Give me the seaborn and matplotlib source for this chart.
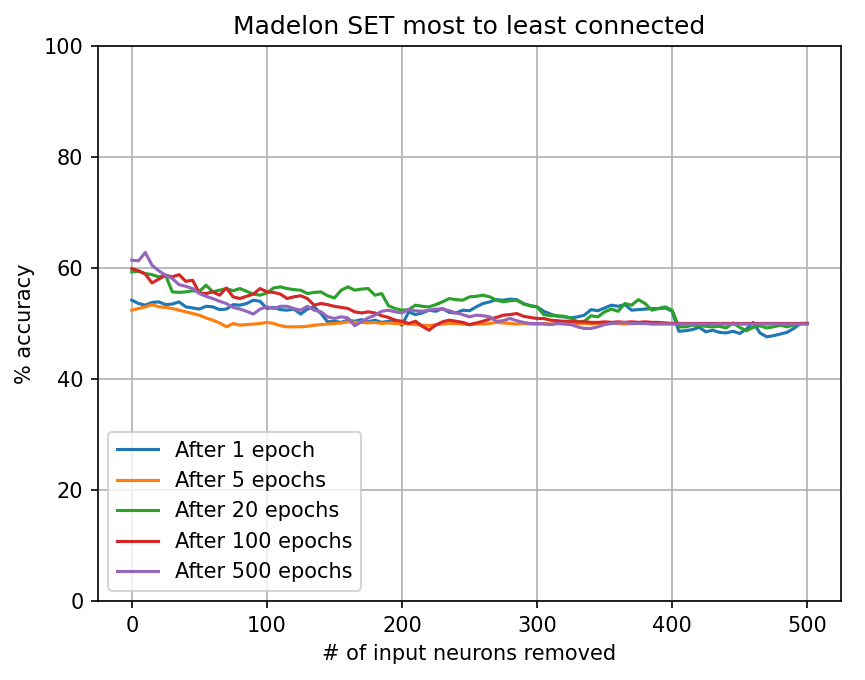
import numpy as np
import pandas as pd
import matplotlib
matplotlib.use('Agg')
import matplotlib.pyplot as plt
import seaborn as sns

# x axis: number of input neurons removed (read every 5 neurons)
removed = list(range(0, 501, 5))

labels = ['After 1 epoch', 'After 5 epochs', 'After 20 epochs',
          'After 100 epochs', 'After 500 epochs']

acc_1 = [54.2, 53.6, 53.3, 53.8, 53.9, 53.4, 53.5, 53.9, 53.0, 52.8,
         52.6, 53.1, 53.0, 52.5, 52.6, 53.4, 53.3, 53.6, 54.2, 54.0,
         52.7, 52.9, 52.5, 52.4, 52.6, 51.7, 52.6, 53.0, 51.8, 50.3,
         50.4, 50.2, 50.6, 50.4, 50.7, 50.3, 50.6, 50.2, 50.4, 50.6,
         49.7, 52.1, 51.6, 51.9, 52.4, 52.2, 52.7, 52.0, 51.9, 52.4,
         52.3, 53.0, 53.6, 53.9, 54.3, 54.2, 54.4, 54.3, 53.6, 53.2,
         53.0, 52.2, 51.7, 51.3, 51.2, 51.0, 51.2, 51.5, 52.5, 52.3,
         52.8, 53.3, 53.1, 53.4, 52.4, 52.5, 52.6, 52.7, 52.7, 52.8,
         52.2, 48.6, 48.7, 48.9, 49.3, 48.5, 48.8, 48.4, 48.3, 48.6,
         48.2, 49.0, 50.2, 48.3, 47.6, 47.8, 48.1, 48.4, 49.1, 50.0,
         50.0]

acc_5 = [52.4, 52.7, 53.0, 53.4, 53.0, 52.9, 52.7, 52.4, 52.1, 51.8,
         51.5, 51.0, 50.6, 50.1, 49.4, 50.0, 49.7, 49.8, 49.9, 50.0,
         50.2, 50.0, 49.6, 49.4, 49.4, 49.4, 49.5, 49.7, 49.8, 49.9,
         50.0, 50.1, 50.3, 50.2, 50.2, 50.1, 50.2, 50.0, 50.1, 50.0,
         50.0, 49.9, 49.8, 49.7, 49.6, 49.8, 49.9, 50.0, 50.0, 49.9,
         49.8, 49.9, 49.9, 50.0, 50.2, 50.1, 50.0, 49.9, 50.0, 49.9,
         49.9, 50.0, 49.9, 50.0, 50.0, 49.9, 50.0, 50.0, 49.9, 50.0,
         50.0, 50.0, 50.0, 49.9, 50.0, 50.0, 50.0, 50.0, 50.0, 50.0,
         50.0, 50.0, 50.0, 50.0, 50.0, 50.0, 50.0, 50.0, 50.0, 50.0,
         50.0, 50.0, 50.0, 50.0, 50.0, 50.0, 50.0, 50.0, 50.0, 50.0,
         50.0]

acc_20 = [59.3, 59.4, 59.0, 58.8, 58.4, 58.7, 55.7, 55.6, 55.7, 55.9,
          55.8, 56.9, 55.7, 56.0, 56.3, 55.9, 56.3, 55.8, 55.3, 55.1,
          55.5, 56.4, 56.6, 56.3, 56.1, 56.0, 55.4, 55.6, 55.7, 55.0,
          54.6, 56.0, 56.6, 56.0, 56.2, 56.3, 55.1, 55.4, 53.2, 52.7,
          52.4, 52.5, 53.3, 53.1, 53.0, 53.4, 53.9, 54.5, 54.3, 54.2,
          54.8, 54.9, 55.1, 54.8, 54.2, 53.9, 54.1, 54.2, 53.5, 53.2,
          53.0, 51.6, 51.4, 51.4, 51.3, 51.0, 50.3, 50.4, 51.4, 51.2,
          52.1, 52.6, 52.2, 53.6, 53.3, 54.3, 53.6, 52.4, 52.7, 53.0,
          52.4, 49.4, 49.4, 49.7, 49.6, 49.5, 49.4, 49.5, 49.2, 50.1,
          49.3, 48.7, 49.3, 49.6, 49.2, 49.4, 49.7, 49.4, 49.7, 50.0,
          50.0]

acc_100 = [59.9, 59.5, 58.9, 57.3, 58.0, 58.7, 58.4, 58.8, 57.6, 57.8,
           55.5, 55.4, 55.7, 55.1, 56.4, 54.8, 54.5, 54.9, 55.3, 56.3,
           55.7, 55.6, 55.3, 54.5, 54.8, 55.0, 54.5, 53.3, 53.6, 53.4,
           53.1, 52.9, 52.7, 52.1, 51.9, 52.1, 51.9, 51.4, 51.1, 50.6,
           50.4, 50.0, 50.4, 49.5, 48.8, 49.7, 50.3, 50.6, 50.4, 50.2,
           49.8, 50.1, 50.4, 50.8, 51.1, 51.5, 51.6, 51.8, 51.3, 51.1,
           50.9, 50.9, 50.6, 50.5, 50.4, 50.4, 50.3, 50.3, 50.2, 50.2,
           50.3, 50.2, 50.3, 50.2, 50.3, 50.2, 50.3, 50.2, 50.2, 50.1,
           50.0, 50.0, 50.0, 50.0, 50.0, 50.0, 50.0, 50.0, 50.0, 50.0,
           50.0, 50.0, 50.0, 50.0, 50.0, 50.0, 50.0, 50.0, 50.0, 50.0,
           50.0]

acc_500 = [61.4, 61.3, 62.8, 60.5, 59.5, 58.7, 58.1, 57.0, 56.7, 56.3,
           55.4, 54.9, 54.5, 54.0, 53.6, 52.9, 52.6, 52.2, 51.7, 52.6,
           53.0, 52.7, 53.1, 53.1, 52.7, 52.4, 53.1, 52.4, 52.1, 51.2,
           50.9, 51.2, 51.0, 49.6, 50.3, 51.0, 51.5, 52.2, 52.4, 52.1,
           51.9, 52.5, 52.3, 52.2, 52.4, 52.6, 52.6, 52.3, 51.9, 51.6,
           51.2, 51.5, 51.4, 51.2, 50.4, 50.5, 50.9, 50.5, 50.2, 50.0,
           50.0, 49.9, 49.8, 50.0, 49.9, 49.8, 49.4, 49.1, 49.1, 49.4,
           49.8, 50.0, 50.1, 50.2, 50.0, 50.0, 50.0, 49.9, 49.9, 49.9,
           49.9, 49.9, 49.9, 49.9, 49.9, 49.9, 49.9, 49.9, 49.9, 49.9,
           49.9, 49.9, 49.9, 49.9, 49.9, 49.9, 49.9, 49.9, 49.9, 49.9,
           49.9]

series = [acc_1, acc_5, acc_20, acc_100, acc_500]

frames = []
for lab, vals in zip(labels, series):
    frames.append(pd.DataFrame({'removed': removed, 'accuracy': vals, 'run': lab}))
df = pd.concat(frames, ignore_index=True)

fig = plt.figure(figsize=(865 / 150, 680 / 150), dpi=150)
ax = fig.add_axes([98 / 865, 1 - 601 / 680, 743 / 865, 555 / 680])

sns.lineplot(data=df, x='removed', y='accuracy', hue='run', hue_order=labels,
             palette='tab10', linewidth=1.5, ax=ax)

ax.set_xlim(-25, 525)
ax.set_ylim(0, 100)
ax.set_xticks([0, 100, 200, 300, 400, 500])
ax.set_yticks([0, 20, 40, 60, 80, 100])
ax.grid(True, color='#b0b0b0', linewidth=0.8)
ax.set_axisbelow(True)
ax.set_title('Madelon SET most to least connected', fontsize=12)
ax.set_xlabel('# of input neurons removed', fontsize=10)
ax.set_ylabel('% accuracy', fontsize=10)
ax.tick_params(labelsize=10)
sns.move_legend(ax, 'lower left', title=None, fontsize=10)

fig.savefig('out.png', dpi=150)
